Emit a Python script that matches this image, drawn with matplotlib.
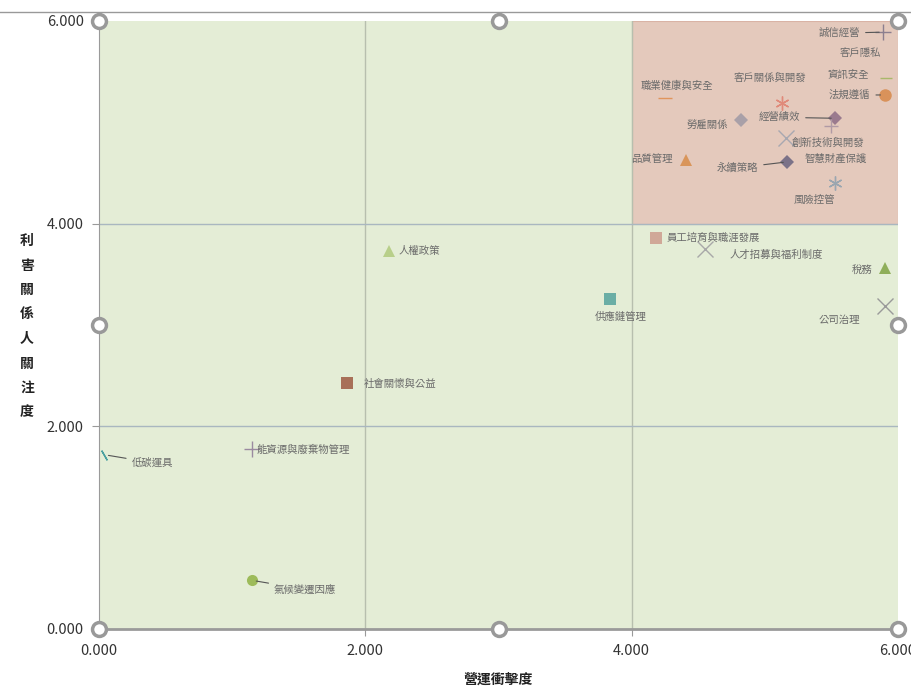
import matplotlib
matplotlib.use('Agg')
import matplotlib.pyplot as plt
from matplotlib.patches import Rectangle

plt.rcParams['font.family'] = ['Noto Sans CJK TC', 'DejaVu Sans']

# data: 營運衝擊度 (x), 利害關係人關注度 (y)
topics = ['誠信經營', '客戶隱私', '資訊安全', '法規遵循', '職業健康與安全', '客戶關係與開發',
          '勞雇關係', '經營績效', '創新技術與開發', '智慧財產保護', '品質管理', '永續策略',
          '風險控管', '員工培育與職涯發展', '人才招募與福利制度', '稅務', '公司治理',
          '人權政策', '供應鏈管理', '社會關懷與公益', '能資源與廢棄物管理', '低碳運具', '氣候變遷因應']
impact = [5.89, 5.92, 5.91, 5.90, 4.25, 5.13,
          4.82, 5.53, 5.50, 5.16, 4.41, 5.17,
          5.53, 4.18, 4.55, 5.90, 5.90,
          2.18, 3.84, 1.86, 1.15, 0.04, 1.15]
concern = [5.89, 5.60, 5.44, 5.27, 5.24, 5.19,
           5.02, 5.04, 4.96, 4.85, 4.63, 4.61,
           4.40, 3.86, 3.75, 3.56, 3.19,
           3.73, 3.26, 2.43, 1.78, 1.72, 0.48]

# styles (marker, colour, size, label offset in px, leader line)
markers = ['+', '', '_', 'o', '_', (6, 2, 0),
           'D', 'D', '+', 'x', '^', 'D',
           (6, 2, 0), 's', 'x', '^', 'x',
           '^', 's', 's', '+', (2, 2, 30), 'o']
colors = ['#8c7f8f', '#999999', '#a9b86a', '#d9925a', '#e0955c', '#e08a7a',
          '#a9a0a8', '#9a7a8e', '#b09aa5', '#a8a8b0', '#d9955a', '#7b7288',
          '#9aa6b0', '#d0a898', '#a8a8a8', '#8fae5a', '#9a9a9a',
          '#b8cf8a', '#6aaea5', '#a87058', '#9a8aa0', '#4aa0a0', '#9dbb5a']
sizes = [11, 0, 9, 9, 10, 10,
         7.5, 7.5, 10, 11, 9, 7.5,
         10, 8, 11, 9, 11,
         9, 8, 8, 11, 8, 8]
offsets = [(-44, -1), (-27, 9), (-38, 3), (-35, 0), (12, 12), (-12, 25),
           (-34, -5), (-56, 1), (-3, -16), (50, -21), (-34, 1), (-50, -6),
           (-21, -17), (58, 0), (71, -6), (-23, -2), (-45, -14),
           (30, 0), (10, -18), (53, -1), (51, -1), (48, -8), (53, -9)]
leaders = {'誠信經營', '法規遵循', '經營績效', '永續策略', '低碳運具', '氣候變遷因應'}

fig = plt.figure(figsize=(9.11, 6.89), dpi=100)
ax = fig.add_axes([99 / 911, 1 - 629 / 689, 799 / 911, 608 / 689])
ax.set_xlim(0, 6)
ax.set_ylim(0, 6)
ax.set_facecolor('#e4edd6')
ax.add_patch(Rectangle((4, 4), 2, 2, facecolor='#e4c9bc', edgecolor='#d9b3a5', lw=0.8, zorder=0.5))

for x in [2, 4]:
    ax.axvline(x, color='#b7bfae', lw=1, zorder=0.6)
for y in [2, 4]:
    ax.axhline(y, color='#a9b7c0', lw=1, zorder=0.6)

for i, name in enumerate(topics):
    if markers[i] != '':
        thin = markers[i] in ['+', 'x', '_'] or isinstance(markers[i], tuple)
        ax.plot(impact[i], concern[i], marker=markers[i], color=colors[i], ms=sizes[i],
                mew=1.0 if thin else 0, ls='none', zorder=3)
    dx, dy = offsets[i]
    ap = None
    if name in leaders:
        ap = dict(arrowstyle='-', color='#555555', lw=0.8, shrinkA=2, shrinkB=3)
    ax.annotate(name, (impact[i], concern[i]), xytext=(dx, dy), textcoords='offset pixels',
                ha='center', va='center', fontsize=7.5, color='#6a6a6a', arrowprops=ap, zorder=4)

for s in ['top', 'right']:
    ax.spines[s].set_visible(False)
ax.spines['left'].set_color('#9a9a9a')
ax.spines['bottom'].set_color('#9a9a9a')
ax.spines['bottom'].set_linewidth(2)

ax.set_xticks([0, 2, 4, 6])
ax.set_yticks([0, 2, 4, 6])
ax.set_xticklabels(['0.000', '2.000', '4.000', '6.000'])
ax.set_yticklabels(['0.000', '2.000', '4.000', '6.000'])
ax.tick_params(colors='#9a9a9a', labelcolor='#333333', labelsize=10.5, length=5, pad=6)

# selection handles
hx = [0, 3, 6, 0, 6, 0, 3, 6]
hy = [0, 0, 0, 3, 3, 6, 6, 6]
ax.plot(hx, hy, 'o', ms=10, mfc='white', mec='#999999', mew=2.5, ls='none', clip_on=False, zorder=10)

fig.add_artist(plt.Line2D([0, 1], [1 - 12 / 689, 1 - 12 / 689], color='#999999', lw=1))

fig.text(498 / 911, 1 - 680 / 689, '營運衝擊度', ha='center', va='center', fontsize=10, fontweight='bold', color='#222222')
fig.text(27 / 911, 1 - 327 / 689, '\n'.join('利害關係人關注度'), ha='center', va='center', fontsize=10,
         fontweight='bold', color='#222222', linespacing=1.95)

fig.savefig('out.png', dpi=100)
